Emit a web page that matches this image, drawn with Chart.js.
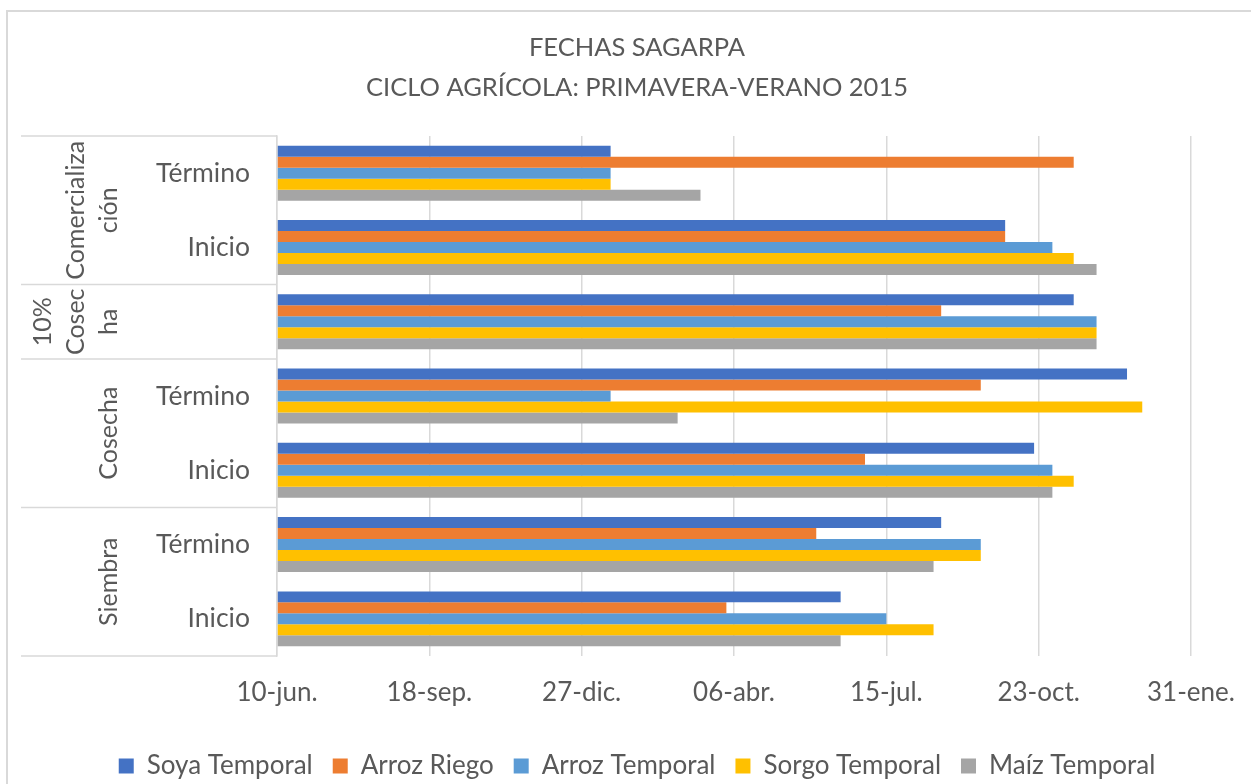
<!DOCTYPE html>
<html>
<head>
<meta charset="utf-8">
<script src="https://cdn.jsdelivr.net/npm/chart.js@4.4.0/dist/chart.umd.min.js"></script>
<style>
  html, body { margin: 0; padding: 0; background: #fff; }
</style>
</head>
<body>
<canvas id="fechasChart" width="1251" height="784"></canvas>
<script>
// etiquetas del eje de categorias (de arriba hacia abajo)
const etapas = ['Término', 'Inicio', '', 'Término', 'Inicio', 'Término', 'Inicio'];
// grupos exteriores, ya partidos en lineas como en el original
const grupos = [['Comercializa', 'ción'], ['10%', 'Cosec', 'ha'], ['Cosecha'], ['Siembra']];
const grupoTamanos = [2, 1, 2, 2];

// fechas
const soyaTemporal = ['2015-01-15', '2015-10-01', '2015-11-15', '2015-12-20', '2015-10-20', '2015-08-20', '2015-06-15'];
const arrozRiego = ['2015-11-15', '2015-10-01', '2015-08-20', '2015-09-15', '2015-07-01', '2015-05-30', '2015-04-01'];
const arrozTemporal = ['2015-01-15', '2015-11-01', '2015-11-30', '2015-01-15', '2015-11-01', '2015-09-15', '2015-07-15'];
const sorgoTemporal = ['2015-01-15', '2015-11-15', '2015-11-30', '2015-12-30', '2015-11-15', '2015-09-15', '2015-08-15'];
const maizTemporal = ['2015-03-15', '2015-11-30', '2015-11-30', '2015-02-28', '2015-11-01', '2015-08-15', '2015-06-15'];

const fechaInicio = '2014-06-10';
const etiquetasX = ['10-jun.', '18-sep.', '27-dic.', '06-abr.', '15-jul.', '23-oct.', '31-ene.'];

const FUENTE = 'Lato, "Noto Sans", sans-serif';
const GRIS_TEXTO = '#595959';
const GRIS_LINEA = '#d9d9d9';

// dias desde el inicio del eje
function dias(fecha) {
  return (Date.parse(fecha) - Date.parse(fechaInicio)) / 86400000;
}

// marco del grafico
const marcoPlugin = {
  id: 'marco',
  beforeDraw(chart) {
    const ctx = chart.ctx;
    ctx.save();
    ctx.fillStyle = '#fff';
    ctx.fillRect(0, 0, chart.width, chart.height);
    ctx.strokeStyle = GRIS_LINEA;
    ctx.lineWidth = 2;
    ctx.beginPath();
    ctx.moveTo(7, chart.height);
    ctx.lineTo(7, 11);
    ctx.lineTo(chart.width, 11);
    ctx.stroke();
    ctx.restore();
  }
};

// etiquetas de grupo y separadores del eje vertical
const gruposPlugin = {
  id: 'grupos',
  afterDraw(chart) {
    const ctx = chart.ctx;
    const area = chart.chartArea;
    const y = chart.scales.y;
    const paso = y.getPixelForValue(1) - y.getPixelForValue(0);
    const izq = area.left - 256;

    ctx.save();
    ctx.strokeStyle = GRIS_LINEA;
    ctx.lineWidth = 1.5;
    let idx = 0;
    const bordes = [0];
    grupoTamanos.forEach(n => { idx += n; bordes.push(idx); });
    bordes.forEach(b => {
      const py = y.getPixelForValue(b) - paso / 2;
      ctx.beginPath();
      ctx.moveTo(izq, py);
      ctx.lineTo(area.left, py);
      ctx.stroke();
    });

    ctx.fillStyle = GRIS_TEXTO;
    ctx.font = '25px ' + FUENTE;
    ctx.textAlign = 'center';
    ctx.textBaseline = 'alphabetic';
    grupos.forEach((lineas, g) => {
      const a = bordes[g];
      const b = bordes[g + 1] - 1;
      const yc = (y.getPixelForValue(a) + y.getPixelForValue(b)) / 2;
      lineas.forEach((txt, i) => {
        const xb = area.left - 160 - 33 * (lineas.length - 1 - i);
        ctx.save();
        ctx.translate(xb, yc);
        ctx.rotate(-Math.PI / 2);
        ctx.fillText(txt, 0, 0);
        ctx.restore();
      });
    });
    ctx.restore();
  }
};

const ctx = document.getElementById('fechasChart').getContext('2d');
new Chart(ctx, {
  type: 'bar',
  data: {
    labels: etapas,
    datasets: [
      { label: 'Soya Temporal', data: soyaTemporal.map(dias), backgroundColor: '#4472C4' },
      { label: 'Arroz Riego', data: arrozRiego.map(dias), backgroundColor: '#ED7D31' },
      { label: 'Arroz Temporal', data: arrozTemporal.map(dias), backgroundColor: '#5B9BD5' },
      { label: 'Sorgo Temporal', data: sorgoTemporal.map(dias), backgroundColor: '#FFC000' },
      { label: 'Maíz Temporal', data: maizTemporal.map(dias), backgroundColor: '#A5A5A5' }
    ]
  },
  options: {
    indexAxis: 'y',
    responsive: false,
    animation: false,
    categoryPercentage: 0.74,
    barPercentage: 1.0,
    layout: { padding: { left: 83, right: 60, top: 0, bottom: -5 } },
    plugins: {
      title: {
        display: true,
        text: ['FECHAS SAGARPA', 'CICLO AGRÍCOLA: PRIMAVERA-VERANO 2015'],
        color: GRIS_TEXTO,
        font: { family: FUENTE, size: 25.5, weight: 'normal', lineHeight: 1.55 },
        padding: { top: 28, bottom: 29 }
      },
      legend: {
        position: 'bottom',
        labels: {
          boxWidth: 15,
          boxHeight: 15,
          color: GRIS_TEXTO,
          font: { family: FUENTE, size: 26 },
          padding: 20
        }
      },
      tooltip: { enabled: false }
    },
    scales: {
      x: {
        min: 0,
        max: 600,
        ticks: {
          stepSize: 100,
          callback: (v, i) => etiquetasX[i],
          color: GRIS_TEXTO,
          font: { family: FUENTE, size: 26 },
          padding: 21,
          maxRotation: 0
        },
        grid: { color: GRIS_LINEA, lineWidth: 1.5, drawTicks: false },
        border: { display: false },
        afterFit(s) { s.height = 77; s.paddingLeft = 0; s.paddingRight = 0; }
      },
      y: {
        ticks: { color: GRIS_TEXTO, font: { family: FUENTE, size: 26.5 }, padding: 27 },
        grid: { display: false, drawTicks: false },
        border: { display: true, color: GRIS_LINEA, width: 1.5 },
        afterFit(s) { s.width = 194; }
      }
    }
  },
  plugins: [marcoPlugin, gruposPlugin]
});
</script>
</body>
</html>
